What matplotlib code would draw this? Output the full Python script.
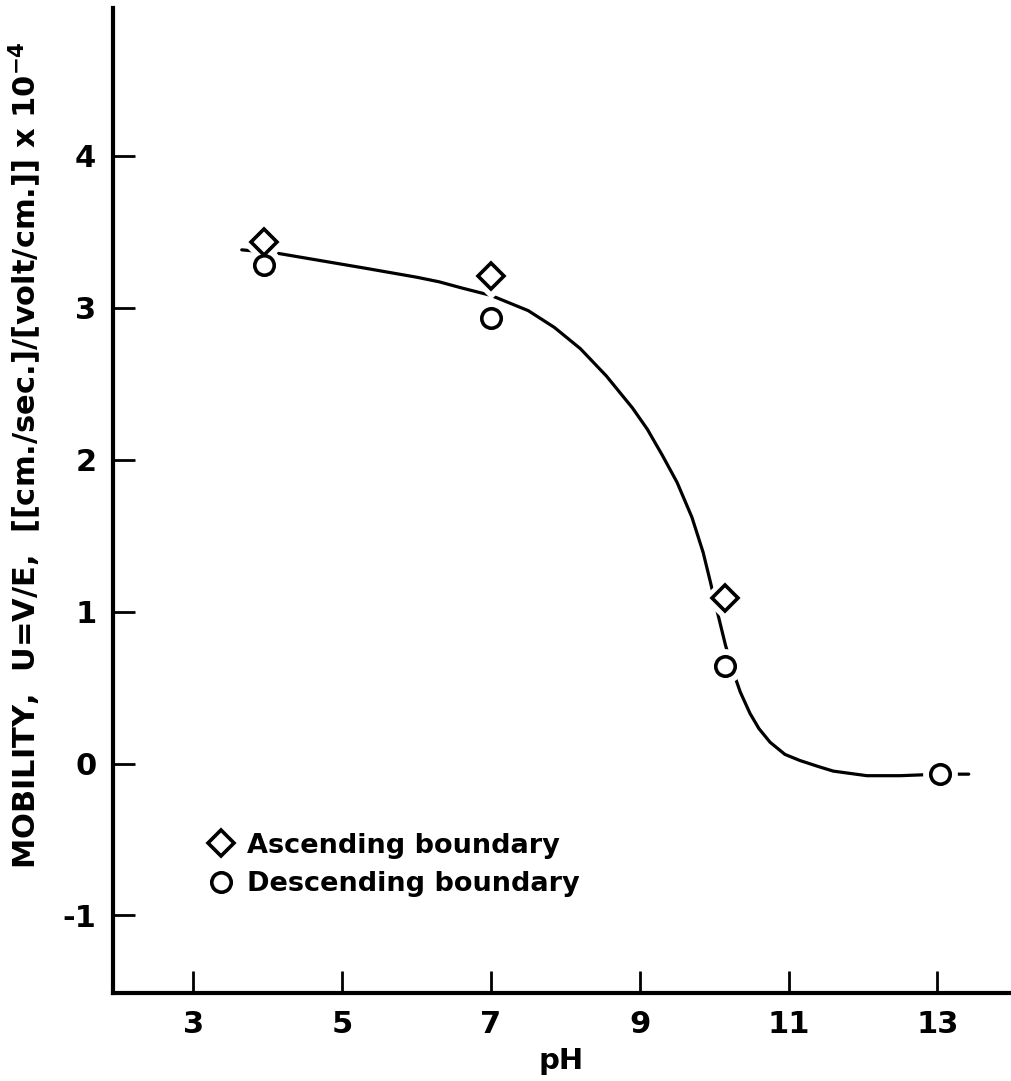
import matplotlib
matplotlib.use('Agg')
import matplotlib.pyplot as plt
from matplotlib.lines import Line2D

# measured points
asc_ph = [3.95, 7.0, 10.15]
asc_mob = [3.43, 3.21, 1.09]
desc_ph = [3.95, 7.0, 10.15, 13.03]
desc_mob = [3.28, 2.93, 0.645, -0.07]

# hand drawn curve
curve_ph = [3.65, 4.1, 4.7, 5.3, 6.0, 6.3, 6.6, 7.0, 7.5, 7.85, 8.2, 8.55, 8.9,
            9.1, 9.3, 9.5, 9.7, 9.85, 9.95, 10.05, 10.15, 10.25, 10.35, 10.48,
            10.6, 10.75, 10.95, 11.15, 11.4, 11.6, 12.05, 12.5, 13.03, 13.42]
curve_mob = [3.38, 3.36, 3.31, 3.26, 3.20, 3.17, 3.13, 3.08, 2.98, 2.87, 2.73,
             2.55, 2.34, 2.20, 2.03, 1.85, 1.62, 1.39, 1.19, 0.98, 0.78, 0.61,
             0.47, 0.33, 0.23, 0.14, 0.06, 0.02, -0.02, -0.05, -0.08, -0.08,
             -0.07, -0.07]

xticks = [3, 5, 7, 9, 11, 13]
yticks = [-1, 0, 1, 2, 3, 4]

plt.rcParams['font.family'] = ['DejaVu Sans']
plt.rcParams['font.weight'] = 'bold'
plt.rcParams['mathtext.default'] = 'bf'

fig = plt.figure(figsize=(10.12, 10.81), dpi=100)
ax = fig.add_axes([0.1117, 0.0814, 0.886, 0.911])

ax.plot(curve_ph, curve_mob, color='black', lw=2.3, zorder=2,
        solid_joinstyle='round', solid_capstyle='round')

# white halo under the markers so the curve breaks around them
ax.plot(asc_ph, asc_mob, ls='none', marker='D', ms=22, mfc='white', mec='white', zorder=3)
ax.plot(desc_ph, desc_mob, ls='none', marker='o', ms=24, mfc='white', mec='white', zorder=3)
ax.plot(asc_ph, asc_mob, ls='none', marker='D', ms=13, mfc='white', mec='black', mew=2.6, zorder=4)
ax.plot(desc_ph, desc_mob, ls='none', marker='o', ms=14, mfc='white', mec='black', mew=2.6, zorder=4)

ax.set_xlim(1.92, 13.97)
ax.set_ylim(-1.51, 4.97)
ax.set_xticks(xticks)
ax.set_yticks(yticks)
ax.set_xticklabels([str(t) for t in xticks], fontsize=22, fontweight='bold')
ax.set_yticklabels([str(t) for t in yticks], fontsize=22, fontweight='bold')
ax.tick_params(direction='in', length=16, width=2, pad=12)

for side in ['top', 'right']:
    ax.spines[side].set_visible(False)
for side in ['left', 'bottom']:
    ax.spines[side].set_linewidth(3)

ax.set_xlabel('pH', fontsize=21, fontweight='bold', labelpad=6)
ax.set_ylabel('MOBILITY,  U=V/E,  [[cm./sec.]/[volt/cm.]] x 10$^{-4}$',
              fontsize=22, fontweight='bold')
ax.yaxis.set_label_coords(-0.077, 0.546)

handles = [Line2D([], [], ls='none', marker='D', ms=13, mfc='white', mec='black', mew=2.6),
           Line2D([], [], ls='none', marker='o', ms=14, mfc='white', mec='black', mew=2.6)]
ax.legend(handles, ['Ascending boundary', 'Descending boundary'], loc='center left',
          bbox_to_anchor=(0.075, 0.13), frameon=False,
          handletextpad=0.35, labelspacing=0.45, handlelength=1.2,
          prop={'weight': 'bold', 'size': 19.5})

fig.savefig('out.png', dpi=100, facecolor='white')
